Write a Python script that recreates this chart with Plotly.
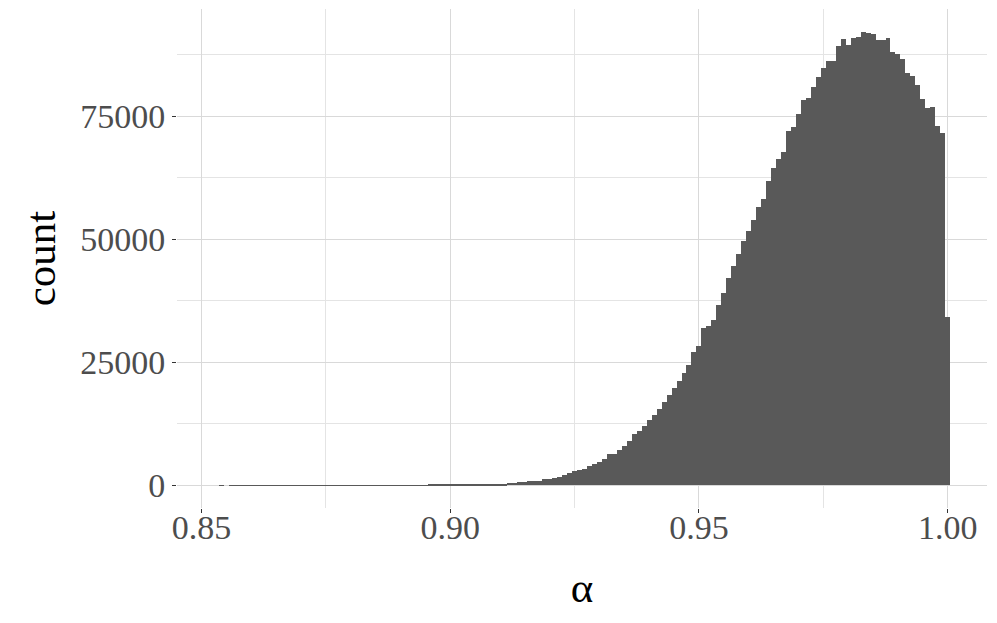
import numpy as np
import plotly.graph_objects as go

# histogram of alpha, bin width 0.001, bins centred at 0.853 ... 1.000
bin_width = 0.001
first_bin_center = 0.853
counts = [
    # 0.853 - 0.862
    0, 1, 0, 1, 1, 1, 1, 2, 2, 2,
    # 0.863 - 0.872
    2, 3, 3, 3, 4, 4, 5, 5, 6, 7,
    # 0.873 - 0.882
    7, 8, 9, 10, 11, 12, 14, 15, 17, 19,
    # 0.883 - 0.892
    21, 23, 25, 28, 31, 34, 37, 41, 45, 50,
    # 0.893 - 0.902
    54, 59, 64, 69, 75, 81, 88, 95, 102, 108,
    # 0.903 - 0.912
    112, 118, 125, 140, 165, 200, 235, 270, 340, 470,
    # 0.913 - 0.922
    540, 610, 745, 900, 940, 970, 1200, 1230, 1480, 1690,
    # 0.923 - 0.932
    2030, 2500, 2850, 3100, 3330, 3940, 4350, 4670, 5370, 6380,
    # 0.933 - 0.942
    6380, 7260, 7930, 9020, 10450, 11120, 12070, 13290, 14230, 15590,
    # 0.943 - 0.952
    17010, 18370, 19720, 21280, 22850, 24470, 27170, 28390, 31850, 32420,
    # 0.953 - 0.962
    33540, 36590, 39090, 42010, 44570, 47010, 49590, 51570, 53800, 56440,
    # 0.963 - 0.972
    58130, 61850, 64430, 66200, 67680, 71890, 72700, 75470, 78190, 78600,
    # 0.973 - 0.982
    80950, 82900, 84670, 86100, 86100, 89150, 90700, 89430, 90850, 91120,
    # 0.983 - 0.992
    92130, 91790, 91670, 90450, 90370, 90850, 88070, 87520, 86590, 83800,
    # 0.993 - 1.000
    83130, 81360, 78450, 76630, 76830, 72890, 71540, 34150,
]
bin_centers = np.round(first_bin_center + bin_width * np.arange(len(counts)), 3)

x_tick_vals = [0.85, 0.90, 0.95, 1.00]
x_tick_text = ["0.85", "0.90", "0.95", "1.00"]
y_tick_vals = [0, 25000, 50000, 75000]
y_tick_text = ["0", "25000", "50000", "75000"]

x_title = "α"
y_title = "count"

FONT = "Liberation Serif"
GRID = "#D9D9D9"
MINOR_GRID = "#E4E4E4"

fig = go.Figure(
    go.Bar(
        x=bin_centers,
        y=counts,
        width=bin_width,
        marker=dict(color="#595959", line=dict(width=0)),
        hoverinfo="x+y",
    )
)

# ggplot-like expansion (5% each side)
x_lo = first_bin_center - bin_width / 2
x_hi = bin_centers[-1] + bin_width / 2
x_pad = 0.05 * (x_hi - x_lo)
y_max = max(counts)
y_pad = 0.05 * y_max

fig.update_layout(
    width=997,
    height=623,
    margin=dict(l=177, r=10, t=9, b=115),
    paper_bgcolor="white",
    plot_bgcolor="white",
    bargap=0,
    showlegend=False,
    font=dict(family=FONT, color="#4D4D4D", size=34),
)

fig.update_xaxes(
    range=[x_lo - x_pad, x_hi + x_pad],
    tickvals=x_tick_vals,
    ticktext=x_tick_text,
    showgrid=True,
    gridcolor=GRID,
    gridwidth=1,
    minor=dict(dtick=0.025, tick0=0.85, showgrid=True, gridcolor=MINOR_GRID, gridwidth=1),
    ticks="outside",
    ticklen=4,
    tickwidth=1,
    tickcolor="#333333",
    tickfont=dict(family=FONT, size=34, color="#4D4D4D"),
    ticklabelstandoff=-15,
    zeroline=False,
    showline=False,
    automargin=False,
    title=dict(text=x_title, font=dict(family=FONT, size=43, color="black"), standoff=27),
)

fig.update_yaxes(
    range=[-y_pad, y_max + y_pad],
    tickvals=y_tick_vals,
    ticktext=y_tick_text,
    showgrid=True,
    gridcolor=GRID,
    gridwidth=1,
    minor=dict(dtick=12500, tick0=0, showgrid=True, gridcolor=MINOR_GRID, gridwidth=1),
    ticks="outside",
    ticklen=4,
    tickwidth=1,
    tickcolor="#333333",
    tickfont=dict(family=FONT, size=34, color="#4D4D4D"),
    zeroline=False,
    showline=False,
    automargin=False,
    title=dict(text=y_title, font=dict(family=FONT, size=43, color="black"), standoff=11),
)

fig.write_html(
    "out.html",
    config={"displayModeBar": False},
    post_script="document.body.style.margin='0';document.body.style.padding='0';",
)
